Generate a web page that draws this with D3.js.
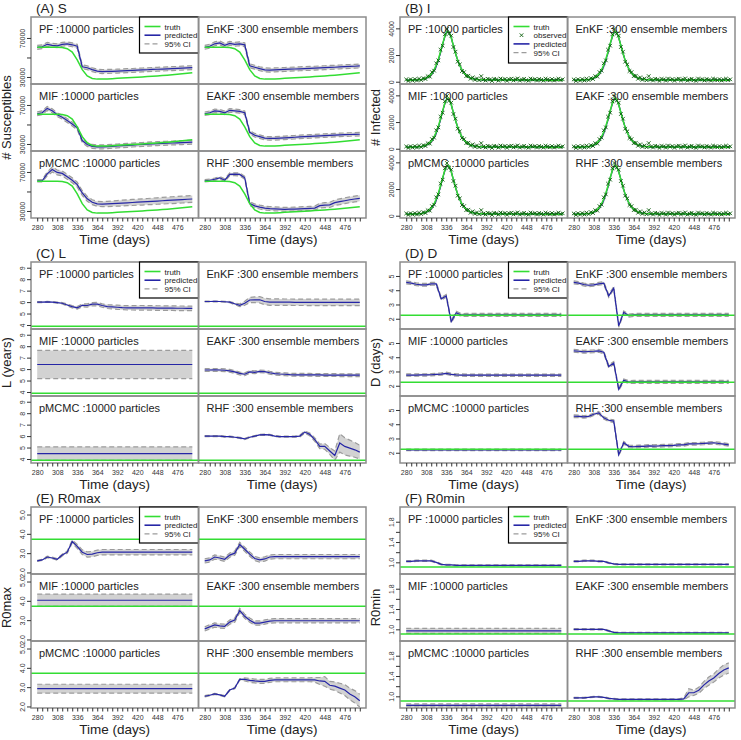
<!DOCTYPE html>
<html><head><meta charset="utf-8">
<script src="https://cdn.jsdelivr.net/npm/d3@7"></script>
<style>body{margin:0;background:#fff} svg{display:block} text{font-family:"Liberation Sans",Arial,sans-serif}</style>
</head><body><svg id="c" width="741" height="740"></svg>
<script>
// ---------------- data ----------------
const days = [280,287,294,301,308,315,322,329,336,343,350,357,364,371,378,385,392,399,406,413,420,427,434,441,448,455,462,469,476,483,490,497];
const iDays = [280,283,286,289,292,295,298,301,304,307,310,313,316,319,322,325,328,331,334,337,340,343,346,349,352,355,358,361,364,367,370,373,376,379,382,385,388,391,394,397,400,403,406,409,412,415,418,421,424,427,430,433,436,439,442,445,448,451,454,457,460,463,466,469,472,475,478,481,484,487,490,493,496,499];
const xTickDays = [280,287,294,301,308,315,322,329,336,343,350,357,364,371,378,385,392,399,406,413,420,427,434,441,448,455,462,469,476,483,490,497];
const xTickLabels = [280,308,336,364,392,420,448,476];
const methods = ["PF","EnKF","MIF","EAKF","pMCMC","RHF"];
const methodLabels = ["PF :10000 particles","EnKF :300 ensemble members","MIF :10000 particles","EAKF :300 ensemble members","pMCMC :10000 particles","RHF :300 ensemble members"];

// (A) S
const S_truth = [60500,60500,60500,60500,60400,60200,59000,55500,47500,37500,31000,28500,27800,27800,28000,28300,28600,28900,29200,29500,29800,30100,30400,30700,31000,31400,31800,32200,32700,33200,33800,34400];
const S_PF = [60400,61000,63500,62500,62000,63500,64000,63000,61500,40500,39500,37500,36000,35500,35700,35800,36000,36200,36500,36700,37000,37200,37400,37700,37900,38100,38400,38600,38800,39100,39300,39500];
const S_EnKF = [60400,61500,64000,65000,62500,64500,63500,64000,63000,41500,40000,38500,37300,37000,37300,37500,37700,38000,38200,38400,38600,38800,39000,39300,39500,39800,40000,40300,40600,40800,41000,41300];
const S_MIF = [61000,62000,66500,64000,60000,57500,54000,50500,46500,33500,29500,27500,27000,27000,27300,27600,28000,28300,28600,28900,29200,29500,29800,30100,30400,30600,30800,31000,31200,31400,31600,31800];
const S_EAKF = [61000,62000,64000,63500,62000,64500,64000,63500,62000,42000,39000,37500,36000,35700,35800,36000,36300,36600,36900,37200,37500,37800,38000,38300,38600,38800,39000,39300,39500,39700,39900,40000];
const S_pMCMC = [61000,61000,68000,72500,69500,68500,65000,61500,57000,48500,42500,39000,37300,37000,37200,37500,37800,38100,38400,38700,39000,39300,39600,39900,40200,40500,40800,41100,41400,41700,42000,42300];
const S_RHF = [61000,61500,62500,64000,61500,67500,67700,67500,64000,37500,35200,34000,33000,32500,32200,31900,31700,31800,32000,32200,32500,32700,33000,35500,36000,36300,38500,39500,40500,41500,42300,43000];
const S_ci = [2000, 2000, 2000, 1800,
  [1200,1200,2000,2500,2500,2500,2500,2500,2500,2500,2500,2500,2500,2600,2700,2800,2900,3000,3000,3100,3100,3200,3200,3300,3300,3400,3400,3500,3500,3500,3500,3500],
  [1200,1200,1200,1200,1500,1500,1500,1500,1500,2000,2000,2000,2000,2000,2000,2000,2000,2000,2000,2000,2000,2000,2000,2500,2500,2700,2800,3000,3000,3000,3000,3000]];
const S_domain = [22800, 91500];
const S_ticks = [30000, 50000, 70000];
const S_tickLabels = [30000, 70000];

// (B) I
const I_truth = [110,115,120,125,130,140,155,175,210,260,340,460,640,900,1250,1700,2250,2850,3400,3780,3720,3300,2720,2120,1620,1200,880,650,480,360,280,230,195,175,160,150,145,142,140,138,136,135,134,133,132,131,130,130,129,128,128,127,126,126,125,125,124,124,123,123,122,122,121,121,120,120,120,119,119,118,118,118,117,117];
const I_pred = [110,115,120,125,130,138,150,168,200,245,315,420,590,830,1150,1600,2180,2800,3380,3720,3700,3300,2720,2120,1620,1200,880,650,480,360,280,230,195,175,160,150,145,142,140,138,136,135,134,133,132,131,130,130,129,128,128,127,126,126,125,125,124,124,123,123,122,122,121,121,120,120,120,119,119,118,118,118,117,117];
const I_obs = [170,60,190,80,200,90,230,120,270,200,410,380,720,830,1380,1600,2400,2700,3550,3950,3600,3450,2600,2250,1500,1300,800,720,420,450,220,330,140,250,110,420,160,90,220,170,60,210,180,80,240,150,200,70,190,230,100,180,250,80,160,220,120,70,240,160,190,90,210,150,80,230,170,110,200,90,160,230,130,180];
const I_ci = [50, 50, 50, 50, 50, 50];
const I_domain = [-170, 4850];
const I_ticks = [0, 2000, 4000];

// (C) L
const L_truth = 3.88;
const L_PF = [6.0,6.0,6.02,6.0,5.95,5.9,5.75,5.6,5.5,5.72,5.7,5.82,5.82,5.7,5.6,5.58,5.55,5.52,5.5,5.5,5.5,5.5,5.49,5.49,5.48,5.48,5.47,5.47,5.46,5.46,5.45,5.45];
const L_EnKF = [6.05,6.05,6.06,6.05,6.03,6.0,5.85,5.72,5.9,6.18,6.2,6.2,6.05,6.0,6.0,6.0,5.99,5.99,5.98,5.98,5.98,5.97,5.97,5.97,5.97,5.97,5.97,5.97,5.97,5.97,5.97,5.97];
const L_MIF = [6.4,6.4,6.4,6.4,6.4,6.4,6.4,6.4,6.4,6.4,6.4,6.4,6.4,6.4,6.4,6.4,6.4,6.4,6.4,6.4,6.4,6.4,6.4,6.4,6.4,6.4,6.4,6.4,6.4,6.4,6.4,6.4];
const L_EAKF = [5.92,5.92,5.93,5.92,5.9,5.85,5.75,5.62,5.55,5.75,5.72,5.8,5.78,5.68,5.6,5.57,5.55,5.52,5.5,5.5,5.5,5.5,5.49,5.49,5.48,5.48,5.48,5.47,5.47,5.47,5.47,5.47];
const L_pMCMC = [4.47,4.47,4.47,4.47,4.47,4.47,4.47,4.47,4.47,4.47,4.47,4.47,4.47,4.47,4.47,4.47,4.47,4.47,4.47,4.47,4.47,4.47,4.47,4.47,4.47,4.47,4.47,4.47,4.47,4.47,4.47,4.47];
const L_RHF = [6.0,6.0,6.0,6.0,5.95,5.95,5.9,5.85,5.75,5.9,6.0,6.1,6.12,6.1,6.0,5.95,5.95,5.95,5.95,6.0,6.35,6.15,5.7,5.1,5.1,4.7,4.3,5.4,5.1,4.95,4.8,4.6];
const L_ci = [
  [0.04,0.04,0.04,0.04,0.05,0.06,0.08,0.1,0.12,0.12,0.14,0.14,0.15,0.15,0.16,0.17,0.18,0.18,0.19,0.19,0.2,0.2,0.2,0.2,0.2,0.2,0.2,0.2,0.2,0.2,0.2,0.2],
  [0.03,0.03,0.03,0.03,0.04,0.05,0.08,0.12,0.18,0.22,0.25,0.28,0.28,0.28,0.28,0.28,0.28,0.28,0.28,0.28,0.28,0.28,0.28,0.28,0.28,0.28,0.28,0.28,0.28,0.28,0.28,0.28],
  1.23, 0.12, 0.59,
  [0.05,0.05,0.05,0.05,0.05,0.05,0.05,0.05,0.05,0.05,0.05,0.05,0.05,0.05,0.05,0.05,0.05,0.05,0.05,0.08,0.1,0.12,0.15,0.2,0.25,0.3,0.4,0.8,0.75,0.7,0.65,0.6]];
const L_domain = [3.65, 9.5];
const L_ticks = [4,5,6,7,8,9];

// (D) D
const D_truth = 2.24;
const D_PF = [4.55,4.5,4.42,4.38,4.38,4.45,4.45,3.4,3.6,1.8,2.42,2.26,2.27,2.27,2.27,2.27,2.27,2.27,2.27,2.27,2.27,2.27,2.27,2.27,2.27,2.27,2.27,2.27,2.27,2.27,2.27,2.27];
const D_EnKF = [4.55,4.5,4.4,4.35,4.38,4.45,4.5,3.6,4.15,1.5,2.45,2.22,2.27,2.27,2.27,2.27,2.27,2.27,2.27,2.27,2.27,2.27,2.27,2.27,2.27,2.27,2.27,2.27,2.27,2.27,2.27,2.27];
const D_MIF = [2.75,2.75,2.75,2.76,2.76,2.77,2.8,2.82,2.87,2.8,2.76,2.75,2.74,2.74,2.74,2.74,2.74,2.74,2.74,2.74,2.74,2.74,2.74,2.74,2.74,2.74,2.74,2.74,2.74,2.74,2.74,2.74];
const D_EAKF = [4.45,4.42,4.38,4.4,4.42,4.45,4.35,3.35,3.6,1.75,2.38,2.25,2.27,2.27,2.27,2.27,2.27,2.27,2.27,2.27,2.27,2.27,2.27,2.27,2.27,2.27,2.27,2.27,2.27,2.27,2.27,2.27];
const D_pMCMC = [2.2,2.2,2.2,2.2,2.2,2.2,2.2,2.2,2.2,2.2,2.2,2.2,2.2,2.2,2.2,2.2,2.2,2.2,2.2,2.2,2.2,2.2,2.2,2.2,2.2,2.2,2.2,2.2,2.2,2.2,2.2,2.2];
const D_RHF = [4.56,4.55,4.52,4.55,4.7,4.8,4.45,4.28,4.22,1.85,2.7,2.45,2.42,2.45,2.45,2.48,2.47,2.48,2.5,2.5,2.52,2.55,2.55,2.62,2.62,2.63,2.65,2.68,2.7,2.65,2.6,2.55];
const D_ci = [0.1, 0.1, 0.08, 0.1, 0.05, 0.09];
const D_domain = [1.28, 5.98];
const D_ticks = [2,3,4,5];

// (E) R0max
const E_truth = 3.72;
const E_PF = [2.6,2.65,2.8,2.75,2.68,2.9,3.05,3.6,3.35,3.05,2.93,2.95,3.02,3.05,3.05,3.05,3.05,3.05,3.05,3.05,3.05,3.05,3.05,3.05,3.05,3.05,3.05,3.05,3.05,3.05,3.05,3.05];
const E_EnKF = [2.6,2.65,2.8,2.75,2.68,2.9,3.0,3.45,3.2,2.95,2.72,2.65,2.7,2.8,2.82,2.82,2.82,2.82,2.82,2.82,2.82,2.82,2.82,2.82,2.82,2.82,2.82,2.82,2.82,2.82,2.82,2.82];
const E_MIF = [4.03,4.03,4.03,4.03,4.03,4.03,4.03,4.03,4.03,4.03,4.03,4.03,4.03,4.03,4.03,4.03,4.03,4.03,4.03,4.03,4.03,4.03,4.03,4.03,4.03,4.03,4.03,4.03,4.03,4.03,4.03,4.03];
const E_EAKF = [2.55,2.65,2.75,2.7,2.68,2.9,3.0,3.5,3.2,3.0,2.85,2.85,2.9,2.95,2.97,2.97,2.97,2.97,2.97,2.97,2.97,2.97,2.97,2.97,2.97,2.97,2.97,2.97,2.97,2.97,2.97,2.97];
const E_pMCMC = [2.92,2.92,2.92,2.92,2.92,2.92,2.92,2.92,2.92,2.92,2.92,2.92,2.92,2.92,2.92,2.92,2.92,2.92,2.92,2.92,2.92,2.92,2.92,2.92,2.92,2.92,2.92,2.92,2.92,2.92,2.92,2.92];
const E_RHF = [2.53,2.58,2.65,2.6,2.53,2.85,2.95,3.4,3.4,3.35,3.32,3.3,3.3,3.35,3.38,3.38,3.38,3.38,3.38,3.38,3.38,3.38,3.38,3.32,3.3,3.1,3.05,2.95,2.85,2.65,2.5,2.3];
const E_ci = [
  [0.03,0.03,0.04,0.04,0.04,0.05,0.06,0.08,0.1,0.12,0.14,0.14,0.14,0.14,0.14,0.14,0.14,0.14,0.14,0.14,0.14,0.14,0.14,0.14,0.14,0.14,0.14,0.14,0.14,0.14,0.14,0.14],
  0.11, 0.32, 0.11, 0.23,
  [0.03,0.03,0.03,0.03,0.03,0.03,0.03,0.03,0.08,0.1,0.1,0.1,0.1,0.1,0.1,0.1,0.1,0.1,0.1,0.1,0.1,0.1,0.12,0.18,0.25,0.2,0.22,0.25,0.28,0.3,0.32,0.33]];
const E_domain = [1.92, 5.39];
const E_ticks = [2,3,4,5];

// (F) R0min
const F_truth = 0.91;
const F_PF = [1.02,1.02,1.03,1.03,1.03,1.03,1.0,0.96,0.95,0.95,0.94,0.94,0.94,0.94,0.94,0.94,0.94,0.94,0.94,0.94,0.94,0.94,0.94,0.94,0.94,0.94,0.94,0.94,0.94,0.94,0.94,0.94];
const F_EnKF = [1.02,1.02,1.03,1.03,1.03,1.02,1.02,0.99,0.97,0.96,0.96,0.96,0.96,0.96,0.96,0.96,0.96,0.96,0.96,0.96,0.96,0.96,0.96,0.96,0.96,0.96,0.96,0.96,0.96,0.96,0.96,0.96];
const F_MIF = [0.97,0.97,0.97,0.97,0.97,0.97,0.97,0.97,0.97,0.97,0.97,0.97,0.97,0.97,0.97,0.97,0.97,0.97,0.97,0.97,0.97,0.97,0.97,0.97,0.97,0.97,0.97,0.97,0.97,0.97,0.97,0.97];
const F_EAKF = [1.0,1.0,1.0,1.0,1.0,1.0,1.0,0.97,0.94,0.93,0.93,0.93,0.93,0.93,0.93,0.93,0.93,0.93,0.93,0.93,0.93,0.93,0.93,0.93,0.93,0.93,0.93,0.93,0.93,0.93,0.93,0.93];
const F_pMCMC = [0.82,0.82,0.82,0.82,0.82,0.82,0.82,0.82,0.82,0.82,0.82,0.82,0.82,0.82,0.82,0.82,0.82,0.82,0.82,0.82,0.82,0.82,0.82,0.82,0.82,0.82,0.82,0.82,0.82,0.82,0.82,0.82];
const F_RHF = [0.97,0.97,0.97,0.98,0.99,0.99,0.98,0.96,0.95,0.94,0.94,0.94,0.94,0.94,0.94,0.94,0.94,0.94,0.94,0.94,0.94,0.94,0.95,1.07,1.07,1.12,1.22,1.3,1.36,1.45,1.52,1.56];
const F_ci = [0.012, 0.012, 0.05, 0.012, 0.03,
  [0.01,0.01,0.01,0.01,0.01,0.01,0.01,0.01,0.01,0.01,0.01,0.01,0.01,0.01,0.01,0.01,0.01,0.01,0.01,0.01,0.01,0.01,0.02,0.08,0.05,0.06,0.07,0.08,0.08,0.09,0.1,0.1]];
const F_domain = [0.77, 2.09];
const F_ticks = [1.0,1.2,1.4,1.6,1.8];
const F_tickLabels = [1.0,1.4,1.8];

// ---------------- layout ----------------
const colX = [31, 400], rowY = [17, 262, 507], subW = 167.5, subH = 67;
const xDomain = [271.3, 505.7];
const COL = {truth:"#33dd33", pred:"#2626a6", ciFill:"#d2d2d2", ciLine:"#9c9c9c", obs:"#0a5c0a", box:"#8c8c8c", tick:"#333"};

const panels = [
  {id:"A", title:"(A) S", ylab:"# Susceptibles", col:0, row:0, dom:S_domain, ticks:S_ticks, labels:S_tickLabels, fmt:d3.format("d"), truth:S_truth, t:days,
   series:[S_PF,S_EnKF,S_MIF,S_EAKF,S_pMCMC,S_RHF], ci:S_ci},
  {id:"B", title:"(B) I", ylab:"# Infected", col:1, row:0, dom:I_domain, ticks:I_ticks, labels:I_ticks, fmt:d3.format("d"), truth:I_truth, t:iDays, obs:I_obs,
   series:[I_pred,I_pred,I_pred,I_pred,I_pred,I_pred], ci:I_ci},
  {id:"C", title:"(C) L", ylab:"L (years)", col:0, row:1, dom:L_domain, ticks:L_ticks, labels:L_ticks, fmt:d3.format("d"), truth:L_truth, t:days,
   series:[L_PF,L_EnKF,L_MIF,L_EAKF,L_pMCMC,L_RHF], ci:L_ci},
  {id:"D", title:"(D) D", ylab:"D (days)", col:1, row:1, dom:D_domain, ticks:D_ticks, labels:D_ticks, fmt:d3.format("d"), truth:D_truth, t:days,
   series:[D_PF,D_EnKF,D_MIF,D_EAKF,D_pMCMC,D_RHF], ci:D_ci},
  {id:"E", title:"(E) R0max", ylab:"R0max", col:0, row:2, dom:E_domain, ticks:E_ticks, labels:E_ticks, fmt:d3.format(".1f"), truth:E_truth, t:days,
   series:[E_PF,E_EnKF,E_MIF,E_EAKF,E_pMCMC,E_RHF], ci:E_ci},
  {id:"F", title:"(F) R0min", ylab:"R0min", col:1, row:2, dom:F_domain, ticks:F_ticks, labels:F_tickLabels, fmt:d3.format(".1f"), truth:F_truth, t:days,
   series:[F_PF,F_EnKF,F_MIF,F_EAKF,F_pMCMC,F_RHF], ci:F_ci}
];

const svg = d3.select("#c");
const defs = svg.append("defs");

function xMark(sel){
  return sel.attr("d", "M-1.8,-1.8L1.8,1.8M-1.8,1.8L1.8,-1.8");
}

panels.forEach(p => {
  const px = colX[p.col], py = rowY[p.row];
  svg.append("text").attr("x", px + 5).attr("y", py - 4).attr("font-size", 13.5).attr("fill", "#222").text(p.title);
  svg.append("text").attr("transform", `translate(${px - 20},${py + 1.5*subH}) rotate(-90)`)
    .attr("text-anchor", "middle").attr("font-size", 13).attr("fill", "#222").text(p.ylab);

  for (let r = 0; r < 3; r++) for (let c = 0; c < 2; c++) {
    const k = r*2 + c;
    const x0 = px + c*subW, y0 = py + r*subH;
    const x = d3.scaleLinear().domain(xDomain).range([x0, x0 + subW]);
    const y = d3.scaleLinear().domain(p.dom).range([y0 + subH, y0]);
    const cid = `clip${p.id}${k}`;
    defs.append("clipPath").attr("id", cid).append("rect").attr("x", x0).attr("y", y0).attr("width", subW).attr("height", subH);
    const g = svg.append("g").attr("clip-path", `url(#${cid})`);
    const t = p.t, pred = p.series[k], ciw = p.ci[k];
    const hw = i => Array.isArray(ciw) ? ciw[i] : ciw;

    g.append("path").datum(t).attr("fill", COL.ciFill)
      .attr("d", d3.area().x(d => x(d)).y0((d,i) => y(pred[i] - hw(i))).y1((d,i) => y(pred[i] + hw(i))));
    [-1, 1].forEach(s => {
      g.append("path").datum(t).attr("fill", "none").attr("stroke", COL.ciLine).attr("stroke-width", 1.2)
        .attr("stroke-dasharray", "5,3")
        .attr("d", d3.line().x(d => x(d)).y((d,i) => y(pred[i] + s*hw(i))));
    });
    g.append("path").datum(t).attr("fill", "none").attr("stroke", COL.pred).attr("stroke-width", 1.2)
      .attr("d", d3.line().x(d => x(d)).y((d,i) => y(pred[i])));
    if (Array.isArray(p.truth)) {
      g.append("path").datum(t).attr("fill", "none").attr("stroke", COL.truth).attr("stroke-width", 1.5)
        .attr("d", d3.line().x(d => x(d)).y((d,i) => y(p.truth[i])));
    } else {
      g.append("line").attr("x1", x0).attr("x2", x0 + subW).attr("y1", y(p.truth)).attr("y2", y(p.truth))
        .attr("stroke", COL.truth).attr("stroke-width", 1.5);
    }
    if (p.obs) {
      g.selectAll("path.obs").data(t).enter().append("path").attr("class", "obs")
        .attr("transform", (d,i) => `translate(${x(d)},${y(p.obs[i])})`)
        .attr("stroke", COL.obs).attr("stroke-width", 0.9).attr("fill", "none").call(xMark);
    }
    svg.append("rect").attr("x", x0).attr("y", y0).attr("width", subW).attr("height", subH)
      .attr("fill", "none").attr("stroke", COL.box).attr("stroke-width", 1.5);
    svg.append("text").attr("x", x0 + 8).attr("y", y0 + 16).attr("font-size", 11).attr("fill", "#222").text(methodLabels[k]);

    if (k === 0) {
      const entries = p.obs ? ["truth","observed","predicted","95% CI"] : ["truth","predicted","95% CI"];
      const bw = 59, bh = p.obs ? 46 : 36;
      const bx = x0 + subW - bw, by = y0;
      const lg = svg.append("g");
      lg.append("rect").attr("x", bx).attr("y", by).attr("width", bw).attr("height", bh)
        .attr("fill", "#fff").attr("stroke", "#000").attr("stroke-width", 1.2);
      entries.forEach((e, i) => {
        const ly = by + 9.5 + i*8.7;
        if (e === "truth") lg.append("line").attr("x1", bx+5).attr("x2", bx+21).attr("y1", ly).attr("y2", ly).attr("stroke", COL.truth).attr("stroke-width", 1.6);
        if (e === "predicted") lg.append("line").attr("x1", bx+5).attr("x2", bx+21).attr("y1", ly).attr("y2", ly).attr("stroke", COL.pred).attr("stroke-width", 1.6);
        if (e === "95% CI") lg.append("line").attr("x1", bx+5).attr("x2", bx+21).attr("y1", ly).attr("y2", ly).attr("stroke", COL.ciLine).attr("stroke-width", 1.3).attr("stroke-dasharray", "5,3");
        if (e === "observed") lg.append("path").attr("transform", `translate(${bx+13},${ly})`).attr("stroke", COL.obs).attr("stroke-width", 0.9).attr("fill", "none").call(xMark);
        lg.append("text").attr("x", bx + 25).attr("y", ly + 3).attr("font-size", 8).attr("fill", "#222").text(e);
      });
    }

    if (c === 0) {
      const ax = svg.append("g").attr("transform", `translate(${x0},0)`)
        .call(d3.axisLeft(y).tickValues(p.ticks).tickSize(4).tickFormat(v => p.labels.some(l => Math.abs(l - v) < 1e-9) ? p.fmt(v) : ""));
      ax.select(".domain").remove();
      ax.selectAll(".tick line").attr("stroke", COL.tick);
      ax.selectAll(".tick text").attr("transform", "rotate(-90)").attr("x", 0).attr("y", -6).attr("dy", 0)
        .attr("text-anchor", "middle").attr("font-size", 7).attr("fill", "#333").attr("font-family", "Liberation Sans, Arial, sans-serif");
    }
    if (r === 2) {
      const ax = svg.append("g").attr("transform", `translate(0,${y0 + subH})`)
        .call(d3.axisBottom(x).tickValues(xTickDays).tickSize(3.5).tickFormat(d => xTickLabels.includes(d) ? d : ""));
      ax.select(".domain").remove();
      ax.selectAll(".tick line").attr("stroke", COL.tick);
      ax.selectAll(".tick text").attr("y", 12).attr("dy", 0).attr("font-size", 7).attr("fill", "#333")
        .attr("font-family", "Liberation Sans, Arial, sans-serif");
      svg.append("text").attr("x", x0 + subW/2).attr("y", y0 + subH + 26).attr("text-anchor", "middle")
        .attr("font-size", 13.5).attr("fill", "#222").text("Time (days)");
    }
  }
});
</script>
</body></html>
